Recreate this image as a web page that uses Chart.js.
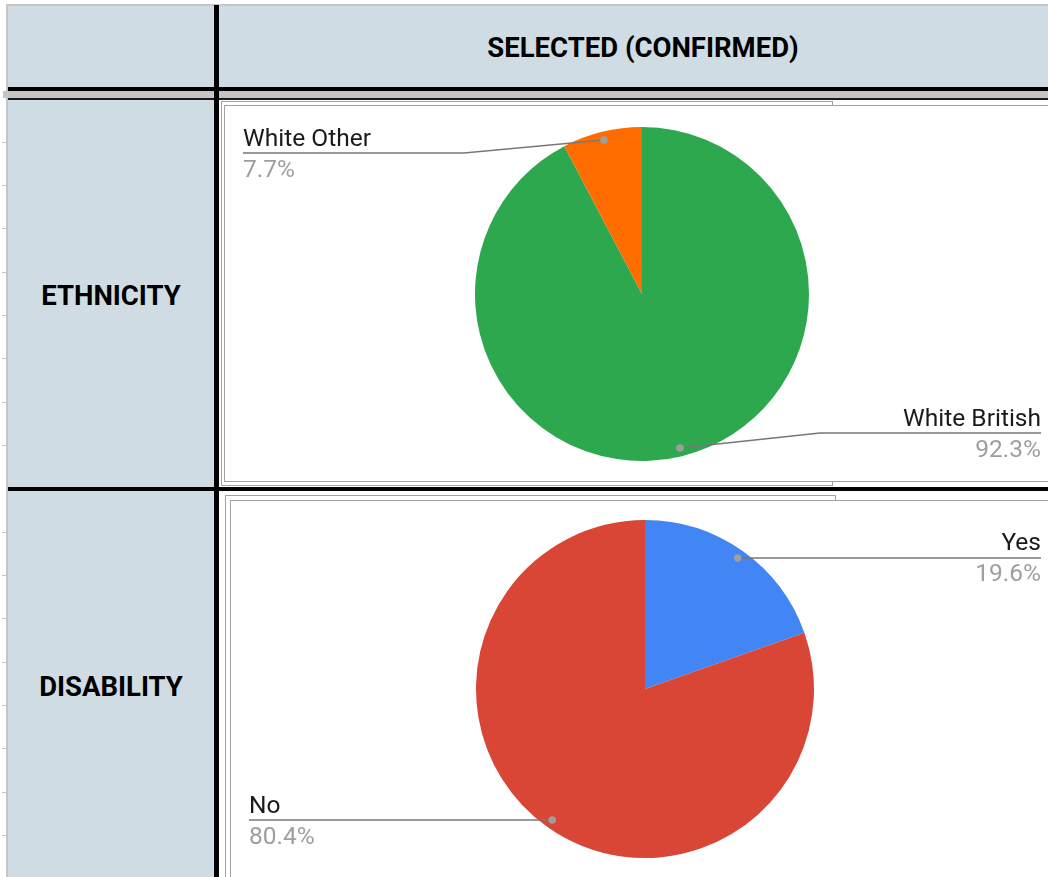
<!DOCTYPE html>
<html>
<head>
<meta charset="utf-8">
<script src="https://cdn.jsdelivr.net/npm/chart.js@4/dist/chart.umd.min.js"></script>
<style>
  html, body { margin: 0; padding: 0; background: #fff; }
  body { position: relative; width: 1048px; height: 877px; overflow: hidden; }
  .blk { position: absolute; box-sizing: border-box; }
  .cellText {
    position: absolute; font-family: Roboto, "Liberation Sans", Arial, sans-serif; font-weight: 700;
    font-size: 27.5px; color: #000; white-space: nowrap; transform: translate(-50%, -50%);
  }
  .frame { position: absolute; box-sizing: border-box; border: 1px solid #a2a2a2; background: #fff; }
  canvas { position: absolute; }
</style>
</head>
<body>
<!-- sheet grid -->
<div class="blk" style="left:7px;top:4px;width:1041px;height:2px;background:#c6c6c6"></div>
<div class="blk" style="left:6px;top:4px;width:2px;height:873px;background:#c6c6c6"></div>
<div class="blk" style="left:8px;top:6px;width:206px;height:81px;background:#d0dce3"></div>
<div class="blk" style="left:219px;top:6px;width:829px;height:81px;background:#d0dce3"></div>
<div class="blk" style="left:8px;top:100px;width:206px;height:777px;background:#d0dce3"></div>
<div class="blk" style="left:8px;top:87px;width:1040px;height:4px;background:#000"></div>
<div class="blk" style="left:3px;top:91px;width:1045px;height:7px;background:#c4c4c4"></div>
<div class="blk" style="left:8px;top:98px;width:1040px;height:2px;background:#1a1a1a"></div>

<!-- chart frames -->
<div class="frame" style="left:221px;top:101px;width:612px;height:385px"></div>
<div class="frame" style="left:224px;top:105px;width:830px;height:377px"></div>
<div class="frame" style="left:225px;top:495px;width:611px;height:400px"></div>
<div class="frame" style="left:230px;top:500px;width:830px;height:400px"></div>

<div class="blk" style="left:8px;top:487px;width:1040px;height:4px;background:#000"></div>
<div class="blk" style="left:214px;top:5px;width:5px;height:872px;background:#000"></div>
<div id="ticks"></div>

<div class="cellText" id="colHead" style="left:643px;top:47px"></div>
<div class="cellText" id="row0" style="left:111px;top:295px"></div>
<div class="cellText" id="row1" style="left:111px;top:686px"></div>

<canvas id="ethnicity" width="823" height="375" style="left:225px;top:106px;width:823px;height:375px"></canvas>
<canvas id="disability" width="817" height="376" style="left:231px;top:501px;width:817px;height:376px"></canvas>

<script>
// Header texts
const columnHeader = 'SELECTED (CONFIRMED)';
const rowHeaders = ['ETHNICITY', 'DISABILITY'];

// Ethnicity split (percent of selected)
const ethnicityLabels = ['White British', 'White Other'];
const ethnicityValues = [92.3, 7.7];
const ethnicityColors = ['#2ea84f', '#ff6d01'];

// Disability split (percent of selected)
const disabilityLabels = ['Yes', 'No'];
const disabilityValues = [19.6, 80.4];
const disabilityColors = ['#4186f4', '#d94636'];

document.getElementById('colHead').textContent = columnHeader;
document.getElementById('row0').textContent = rowHeaders[0];
document.getElementById('row1').textContent = rowHeaders[1];

// row separator stubs along the left edge of the sheet
(function () {
  const host = document.getElementById('ticks');
  for (let y = 141.7; y < 877; y += 43.33) {
    if (Math.abs(y - 488.3) < 3) continue;
    const d = document.createElement('div');
    d.className = 'blk';
    d.style.cssText = 'left:2px;width:5px;height:1px;background:#c6c6c6;top:' + Math.round(y) + 'px';
    host.appendChild(d);
  }
})();

// Outside labels joined to their slices by a leader line
const leaderLabels = {
  id: 'leaderLabels',
  afterDatasetsDraw(chart, args, opts) {
    const ctx = chart.ctx;
    const meta = chart.getDatasetMeta(0);
    const ds = chart.data.datasets[0];
    const total = ds.data.reduce((a, b) => a + b, 0);
    meta.data.forEach((arc, i) => {
      const p = arc.getProps(['x', 'y', 'startAngle', 'endAngle', 'outerRadius'], true);
      const mid = (p.startAngle + p.endAngle) / 2;
      const r = p.outerRadius * 0.95;
      const dotX = p.x + Math.cos(mid) * r;
      const dotY = p.y + Math.sin(mid) * r;
      const right = dotX >= p.x;
      const lineY = Math.min(Math.max(dotY, opts.topGap), chart.height - opts.bottomGap);
      const textX = right ? chart.width - opts.rightInset : opts.leftInset;

      ctx.save();
      ctx.strokeStyle = '#777777';
      ctx.lineWidth = 1.6;
      ctx.beginPath();
      ctx.moveTo(textX, lineY);
      if (Math.abs(lineY - dotY) > 0.5) {
        const bendX = right ? dotX + opts.bend : dotX - opts.bend;
        ctx.lineTo(bendX, lineY);
      }
      ctx.lineTo(dotX, dotY);
      ctx.stroke();

      ctx.fillStyle = '#9e9e9e';
      ctx.beginPath();
      ctx.arc(dotX, dotY, 3.8, 0, Math.PI * 2);
      ctx.fill();

      ctx.textAlign = right ? 'right' : 'left';
      ctx.textBaseline = 'alphabetic';
      ctx.font = '24.5px Roboto';
      ctx.fillStyle = '#1a1a1a';
      ctx.fillText(chart.data.labels[i], textX, lineY - 7.5);
      ctx.fillStyle = '#9e9e9e';
      ctx.fillText((ds.data[i] / total * 100).toFixed(1) + '%', textX, lineY + 23.5);
      ctx.restore();
    });
  }
};

function makePie(id, labels, values, colors, radius) {
  return new Chart(document.getElementById(id), {
    type: 'pie',
    data: {
      labels: labels,
      datasets: [{ data: values, backgroundColor: colors, borderWidth: 0, radius: radius }]
    },
    options: {
      responsive: false,
      animation: false,
      devicePixelRatio: 1,
      layout: { padding: { left: 11, right: 0, top: id === 'ethnicity' ? 1 : 0, bottom: 0 } },
      plugins: {
        legend: { display: false },
        tooltip: { enabled: false },
        leaderLabels: { leftInset: 18, rightInset: 7, topGap: 47, bottomGap: 48, bend: 140 }
      }
    },
    plugins: [leaderLabels]
  });
}

makePie('ethnicity', ethnicityLabels, ethnicityValues, ethnicityColors, 167);
makePie('disability', disabilityLabels, disabilityValues, disabilityColors, 169);
</script>
</body>
</html>
